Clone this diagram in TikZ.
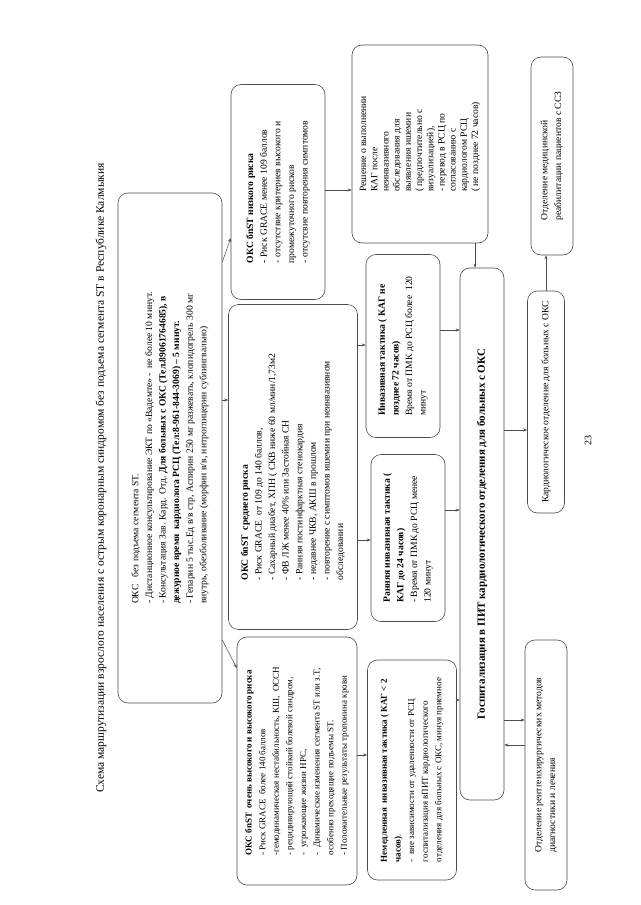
\documentclass[tikz,border=0pt]{standalone}
\usepackage{fontspec}
\setmainfont{Liberation Serif}
\usetikzlibrary{arrows.meta}
\begin{document}
\begin{tikzpicture}[x=1pt,y=-1pt,
  box/.style={draw=black!70, line width=0.6pt, rounded corners=10pt, rotate=90, align=left, inner sep=3pt, font=\fontsize{9.6}{13.6}\selectfont},
  arr/.style={draw=black!70, line width=0.5pt, -{Stealth[length=4pt,width=3pt]}},
  ln/.style={draw=black!70, line width=0.5pt}]
\useasboundingbox (0,0) rectangle (640,905);
\fill[white] (0,0) rectangle (640,905);

\node[rotate=90, font=\fontsize{11.5}{12.5}\selectfont] (title) at (101,478) {Схема маршрутизации взрослого населения с острым коронарным синдромом без  подъема сегмента ST в Республике Калмыкия};

\node[box, minimum width=510pt, minimum height=104pt] (top) at (170,448) {\hfill ОКС \ \ без подъема сегмента ST.\hfill\null\\
- Дистанционное консультирование ЭКТ по «Вадемте» - \ не более 10 минут.\\
- Консультация Зав. Кард. Отд. \textbf{Для больных с ОКС (Тел.89061764685), в}\\
\textbf{дежурное время \ кардиолога РСЦ (Тел:8-961-844-3069) – 5 минут.}\\
- Гепарин 5 тыс.Ед в/в стр, Аспирин 250 мг разжевать, клопидогрель 300 мг\\
внутрь, обезболивание (морфин в/в, нитроглицерин сублингвально)};

\node[box, minimum width=215pt, minimum height=94pt] (low) at (278,192) {\textbf{ОКС бnST низкого риска}\\
- Риск GRACE менее 109 баллов\\
- отсутствие критериев высокого и\\
промежуточного рисков\\
- отсутсвие повторения симптомов};

\node[box, minimum width=325pt, minimum height=129pt] (mid) at (293,467) {\textbf{ОКС бnST \ среднего риска}\\
- Риск GRACE \ от 109 до 140 баллов,\\
- Сахарный диабет, ХПН ( СКВ ниже 60 мл/мин/1,73м2\\
- ФВ ЛЖ менее 40\% или Застойная СН\\
- Ранняя постинфарктная стенокардия\\
- недавнее ЧКВ, АКШ в прошлом\\
- повторение с симптомов ишемии при неинвазивном\\
обследовании};

\node[box, minimum width=248pt, minimum height=120pt, font=\fontsize{9}{13.6}\selectfont] (high) at (297,761) {\textbf{ОКС бnST \ очень высокого и высокого риска}\\
- Риск GRACE \ более 140 баллов\\
-гемодинамическая нестабильность, КШ, \ ОССН\\
- рецидивирующий стойкий болевой синдром,\\
- \ угрожающие жизни НРС,\\
- \ Динамические изменения сегмента ST или з.Т,\\
особенно преходящие подъемы ST.\\
- Положительные результаты тропонина крови};

\node[box, minimum width=220pt, minimum height=89pt, font=\fontsize{9}{13.6}\selectfont] (imm) at (412,770) {\textbf{Немедленная \ инвазивная тактика ( КАГ < 2}\\
\textbf{часов)}.\\
- \ вне зависимости от удаленности от РСЦ\\
госпитализация вПИТ кардиологического\\
отделения для больных с ОКС, минуя приемное};

\node[box, minimum width=167pt, minimum height=74pt] (early) at (408,538) {\textbf{Ранняя инвазивная тактика (}\\
\textbf{КАГ до 24 часов)}\\
- Время от ПМК до РСЦ менее\\
120 минут};

\node[box, minimum width=183pt, minimum height=74pt] (inv) at (403,346) {\textbf{Инвазивная тактика ( КАГ не}\\
\textbf{позднее 72 часов)}\\
Время от ПМК до РСЦ более \ 120\\
минут};

\node[box, minimum width=198pt, minimum height=136pt, font=\fontsize{9.6}{11.2}\selectfont] (dec) at (420,144) {Решение о выполнении\\
КАГ после\\
неинвазивного\\
обследования для\\
выявления ишемии\\
( предпочтительно с\\
визуализацией),\\
- перевод в РСЦ по\\
согласованию с\\
кардиологом РСЦ\\
( не позднее 72 часов)};

\node[box, minimum width=532pt, minimum height=44pt, font=\fontsize{11}{12}\selectfont\bfseries] (hosp) at (482,534) {Госпитализация в ПИТ кардиологического отделения для больных с ОКС};

\node[box, minimum width=222pt, minimum height=37pt] (kardio) at (546,402) {Кардиологическое отделение для больных с ОКС};

\node[box, minimum width=198pt, minimum height=42pt] (rehab) at (552,156) {Отделение медицинской\\
реабилитации пациентов с ССЗ};

\node[box, minimum width=250pt, minimum height=42pt] (xray) at (546,765) {Отделение рентгенхирургических методов\\
диагностики и лечения};

\node[rotate=90, font=\fontsize{10}{11}\selectfont] (pg) at (588,440) {23};

\draw[arr] (top.south |- 0,262) -- (low.north |- 0,238);
\draw[arr] (top.south |- 0,400) -- (mid.north |- 0,400);
\draw[arr] (top.south |- 0,640) -- (high.north |- 0,668);
\draw[arr] (low.south |- 0,190) -- (dec.north |- 0,190);
\draw[arr] (mid.south |- 0,345) -- (inv.north |- 0,345);
\draw[arr] (mid.south |- 0,540) -- (early.north |- 0,540);
\draw[arr] (high.south |- 0,755) -- (imm.north |- 0,755);
\draw[arr] (imm.south |- 0,700) -- (hosp.north |- 0,700);
\draw[arr] (early.south |- 0,510) -- (hosp.north |- 0,510);
\draw[arr] (inv.south |- 0,330) -- (hosp.north |- 0,330);
\draw[arr] (dec.west -| 475,0) -- (hosp.east -| 475,0);
\draw[arr] (hosp.south |- 0,430) -- (kardio.north |- 0,430);
\draw[arr] (kardio.east -| 546,0) -- (rehab.west -| 546,0);
\draw[arr] (hosp.south |- 0,720) -- (xray.north |- 0,720);
\draw[arr] (xray.north |- 0,745) -- (hosp.south |- 0,745);
\end{tikzpicture}
\end{document}
